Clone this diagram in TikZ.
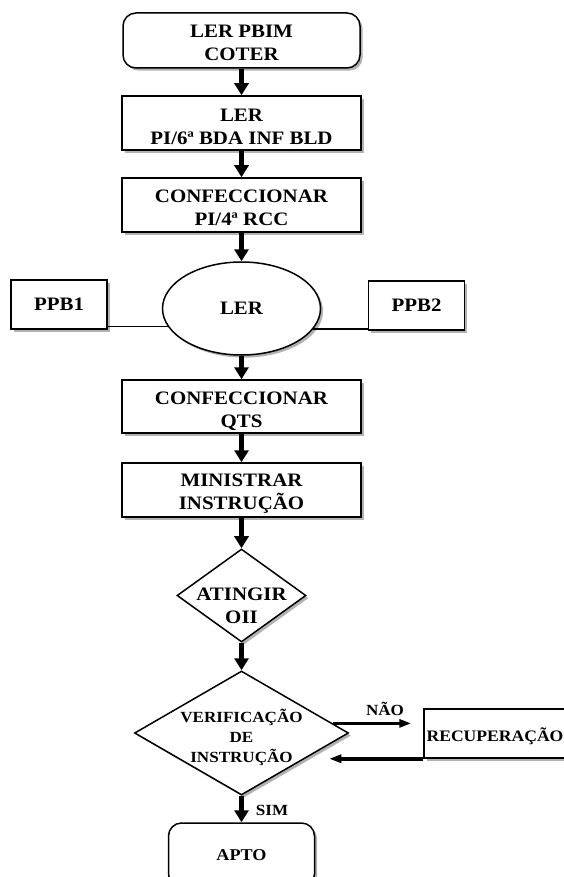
\documentclass[tikz,border=0pt]{standalone}
\usepackage{fontspec}
\newfontfamily\labelfont{Liberation Serif}[FakeStretch=1.1]
\usetikzlibrary{shapes.geometric,arrows.meta,shadows,calc}
\begin{document}
\begin{tikzpicture}[x=1pt,y=-1pt,
  every node/.style={font=\labelfont\bfseries\fontsize{19}{23}\selectfont, align=center, inner sep=0pt},
  smallfont/.style={font=\labelfont\bfseries\fontsize{15.5}{20}\selectfont},
  shadowed/.style={draw, line width=1.5pt, fill=white,
    drop shadow={shadow xshift=2.6pt, shadow yshift=-2.6pt, fill=gray!75, opacity=0.8}},
  procbox/.style={shadowed, rectangle, minimum width=239pt, minimum height=54pt},
  termbox/.style={shadowed, rectangle, rounded corners=13pt},
  sidebox/.style={shadowed, rectangle, minimum width=96pt, minimum height=49pt},
  readoval/.style={shadowed, ellipse, minimum width=158pt, minimum height=93pt},
  decision/.style={shadowed, diamond},
  flow/.style={-{Triangle[width=14pt,length=12pt]}, line width=4.2pt},
  sideflow/.style={-{Triangle[width=8pt,length=12pt]}, line width=3.5pt},
  link/.style={line width=1.3pt}
]
\useasboundingbox (0,0) rectangle (564,877);
\clip (0,0) rectangle (564,877);

% main column: shapes carry their text as centred labels, set a little low
\node[termbox, minimum width=237pt, minimum height=55pt,
  label={[yshift=-2.5pt]center:LER PBIM\\COTER}] (start) at (241.5,40.5) {};
\node[procbox, label={[yshift=-4pt]center:LER\\PI/6ª BDA INF BLD}] (readpi) at (241.5,123) {};
\node[procbox, label={[yshift=-2.5pt]center:CONFECCIONAR\\PI/4ª RCC}] (makepi) at (241.5,205) {};
\node[readoval] (ler) at (241.5,308.5) {LER};
\node[sidebox] (ppb1) at (59,304.5) {PPB1};
\node[sidebox] (ppb2) at (416.5,305.5) {PPB2};
\node[procbox, minimum height=53pt, label={[yshift=-5pt]center:CONFECCIONAR\\QTS}] (qts) at (241.5,406.5) {};
\node[procbox, label={[yshift=-4pt]center:MINISTRAR\\INSTRUÇÃO}] (instr) at (241.5,490) {};
\node[decision, minimum width=129pt, minimum height=93pt,
  label={[yshift=-10pt]center:ATINGIR\\OII}] (oii) at (241.5,595.5) {};
\node[decision, minimum width=214pt, minimum height=124pt,
  label={[smallfont, yshift=-4.5pt]center:VERIFICAÇÃO\\DE\\INSTRUÇÃO}] (verif) at (241.5,733) {};
\node[sidebox, minimum width=142pt,
  label={[font=\labelfont\bfseries\fontsize{16}{20}\selectfont, yshift=-3pt]center:RECUPERAÇÃO}] (recup) at (495,733.5) {};
\node[termbox, minimum width=146pt, minimum height=64pt, font=\labelfont\bfseries\fontsize{16.5}{20}\selectfont] (apto) at (241.5,855) {APTO};

% branch labels
\node[smallfont] (nao) at (385,709) {NÃO};
\node[smallfont] (sim) at (272,810) {SIM};

% flow arrows
\draw[flow] (start) -- (readpi);
\draw[flow] (readpi) -- (makepi);
\draw[flow] (makepi) -- (ler);
\draw[flow] (ler) -- (qts);
\draw[flow] (qts) -- (instr);
\draw[flow] (instr) -- (oii);
\draw[flow] (oii) -- (verif);
\draw[flow] (verif) -- (apto);

% side documents
\draw[link] (ler.194) -- (ler.194 -| ppb1.east);
\draw[link] (ler.-16) -- (ler.-16 -| ppb2.west);

% recovery loop
\coordinate (naoEnd) at ($(verif.6 -| recup.west)+(-12,0)$);
\coordinate (retEnd) at ($(recup.south west)+(-94,0)$);
\draw[sideflow] (verif.6) -- (naoEnd);
\draw[sideflow] (recup.south west) -- (retEnd);
\end{tikzpicture}
\end{document}
